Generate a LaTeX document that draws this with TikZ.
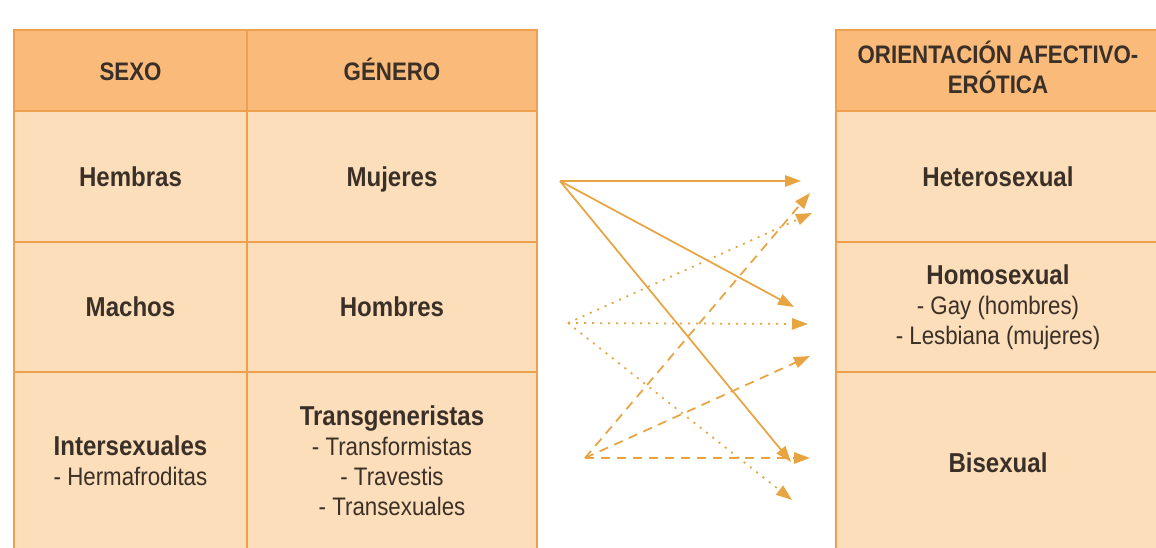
\documentclass[tikz,border=0pt]{standalone}
\usepackage{fontspec}
\setmainfont{Liberation Sans}[FakeStretch=0.88]
\usetikzlibrary{arrows.meta}

\definecolor{headfill}{RGB}{249,186,122}
\definecolor{cellfill}{RGB}{253,222,186}
\definecolor{rule}{RGB}{238,160,78}
\definecolor{arrowcol}{RGB}{232,164,64}
\definecolor{ink}{RGB}{58,48,40}

% bold item name, a bit larger than the sub-items
\newcommand{\itemname}[1]{{\fontsize{20.5}{22.5}\selectfont\bfseries #1}}

\tikzset{
  cell/.style={rectangle, draw=rule, fill=cellfill, line width=1.2pt, inner sep=0pt,
    align=center, text=ink, font=\fontsize{19}{22.5}\selectfont,
    execute at begin node={\rule{0pt}{18.8pt}},
    execute at end node={\rule[-4.2pt]{0pt}{4.2pt}}},
  head/.style={cell, fill=headfill, font=\fontsize{19}{22.5}\selectfont\bfseries,
    execute at begin node={\rule{0pt}{17.8pt}}},
  link/.style={draw=arrowcol, line width=1.3pt, -{Triangle[length=12pt,width=8.5pt]}},
  dotlink/.style={link, dash pattern=on 1.5pt off 4.5pt},
  dashlink/.style={link, dash pattern=on 7pt off 5pt},
}

\begin{document}
\begin{tikzpicture}[x=0.75pt, y=-0.75pt]
      \clip (0,0) rectangle (1156,548);
      \fill[white] (0,0) rectangle (1156,548);

      % left table
      \node[head, minimum width=174.75pt, minimum height=60.75pt] (sexo) at (130.5,70.5) {SEXO};
      \node[head, minimum width=217.5pt, minimum height=60.75pt] (genero) at (392,70.5) {GÉNERO};
      \node[cell, minimum width=174.75pt, minimum height=98.25pt] (hembras) at (130.5,176.5) {\itemname{Hembras}};
      \node[cell, minimum width=217.5pt, minimum height=98.25pt] (mujeres) at (392,176.5) {\itemname{Mujeres}};
      \node[cell, minimum width=174.75pt, minimum height=97.5pt] (machos) at (130.5,307) {\itemname{Machos}};
      \node[cell, minimum width=217.5pt, minimum height=97.5pt] (hombres) at (392,307) {\itemname{Hombres}};
      \node[cell, minimum width=174.75pt, minimum height=136.5pt] (inter) at (130.5,463)
        {\itemname{Intersexuales}\\- Hermafroditas};
      \node[cell, minimum width=217.5pt, minimum height=136.5pt] (trans) at (392,463)
        {\itemname{Transgeneristas}\\- Transformistas\\- Travestis\\- Transexuales};

      % right table
      \node[head, minimum width=243pt, minimum height=60.75pt] (orient) at (998,70.5)
        {ORIENTACIÓN AFECTIVO-\\ERÓTICA};
      \node[cell, minimum width=243pt, minimum height=98.25pt] (hetero) at (998,176.5) {\itemname{Heterosexual}};
      \node[cell, minimum width=243pt, minimum height=97.5pt] (homo) at (998,307)
        {\itemname{Homosexual}\\- Gay (hombres)\\- Lesbiana (mujeres)};
      \node[cell, minimum width=243pt, minimum height=136.5pt] (bi) at (998,463) {\itemname{Bisexual}};

      % arrow ends
      \coordinate (s0) at (560,181);
      \coordinate (d0) at (568,323);
      \coordinate (h0) at (585,458);
      \coordinate (s1) at (801,181);
      \coordinate (s2) at (794,307);
      \coordinate (s3) at (791,462);
      \coordinate (d1) at (812,213);
      \coordinate (d2) at (808,324);
      \coordinate (d3) at (792,500);
      \coordinate (h1) at (810,193);
      \coordinate (h2) at (810,356);
      \coordinate (h3) at (810,458);

      \draw[link] (s0) -- (s1);
      \draw[link] (s0) -- (s2);
      \draw[link] (s0) -- (s3);
      \draw[dotlink] (d0) -- (d1);
      \draw[dotlink] (d0) -- (d2);
      \draw[dotlink] (d0) -- (d3);
      \draw[dashlink] (h0) -- (h1);
      \draw[dashlink] (h0) -- (h2);
      \draw[dashlink] (h0) -- (h3);
\end{tikzpicture}
\end{document}
